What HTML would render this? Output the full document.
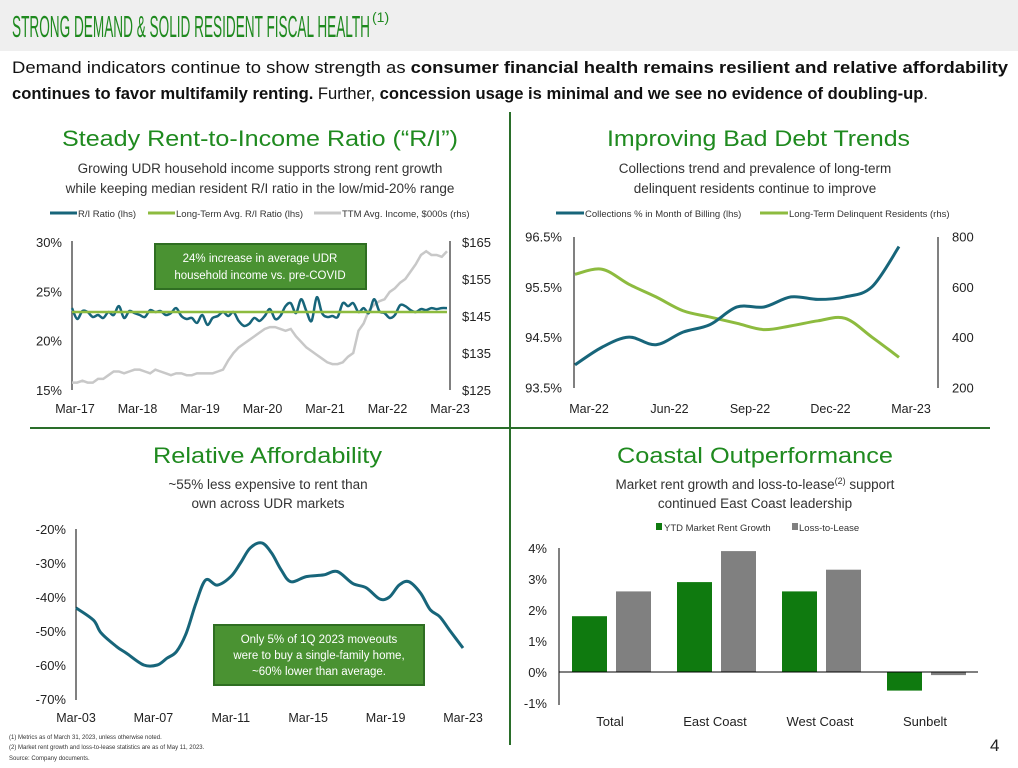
<!DOCTYPE html>
<html><head><meta charset="utf-8"><style>
html,body{margin:0;padding:0;background:#fff;}
svg{display:block;font-family:"Liberation Sans",sans-serif;}
</style></head><body>
<svg id="s" width="1018" height="768" viewBox="0 0 1018 768" xmlns="http://www.w3.org/2000/svg">
<rect x="0" y="0" width="1018" height="51" fill="#efefef"/>
<text x="12" y="37" font-size="31" fill="#1f8a1f" textLength="358" lengthAdjust="spacingAndGlyphs">STRONG DEMAND &amp; SOLID RESIDENT FISCAL HEALTH</text>
<text x="372" y="22" font-size="14" fill="#1f8a1f">(1)</text>
<text x="12" y="73" font-size="17" fill="#111" textLength="996" lengthAdjust="spacingAndGlyphs">Demand indicators continue to show strength as <tspan font-weight="bold">consumer financial health remains resilient and relative affordability</tspan></text>
<text x="12" y="99" font-size="17" fill="#111" textLength="916" lengthAdjust="spacingAndGlyphs"><tspan font-weight="bold">continues to favor multifamily renting.</tspan> Further, <tspan font-weight="bold">concession usage is minimal and we see no evidence of doubling-up</tspan>.</text>
<line x1="510" y1="112" x2="510" y2="745" stroke="#2a6e2a" stroke-width="2"/>
<line x1="30" y1="428" x2="990" y2="428" stroke="#2a6e2a" stroke-width="2"/>

<text x="62" y="146" font-size="22" fill="#1f8a1f" textLength="396" lengthAdjust="spacingAndGlyphs">Steady Rent-to-Income Ratio (“R/I”)</text>
<text x="260" y="173" font-size="13.5" fill="#333" text-anchor="middle">Growing UDR household income supports strong rent growth</text>
<text x="260" y="193" font-size="13.5" fill="#333" text-anchor="middle">while keeping median resident R/I ratio in the low/mid-20% range</text>

<text x="607" y="146" font-size="22" fill="#1f8a1f" textLength="303" lengthAdjust="spacingAndGlyphs">Improving Bad Debt Trends</text>
<text x="755" y="173" font-size="13.5" fill="#333" text-anchor="middle">Collections trend and prevalence of long-term</text>
<text x="755" y="193" font-size="13.5" fill="#333" text-anchor="middle">delinquent residents continue to improve</text>

<text x="153" y="463" font-size="22" fill="#1f8a1f" textLength="229" lengthAdjust="spacingAndGlyphs">Relative Affordability</text>
<text x="268" y="489" font-size="13.5" fill="#333" text-anchor="middle">~55% less expensive to rent than</text>
<text x="268" y="508" font-size="13.5" fill="#333" text-anchor="middle">own across UDR markets</text>

<text x="617" y="463" font-size="22" fill="#1f8a1f" textLength="276" lengthAdjust="spacingAndGlyphs">Coastal Outperformance</text>
<text x="755" y="489" font-size="13.5" fill="#333" text-anchor="middle">Market rent growth and loss-to-lease<tspan font-size="9" dy="-5">(2)</tspan><tspan dy="5"> support</tspan></text>
<text x="755" y="508" font-size="13.5" fill="#333" text-anchor="middle">continued East Coast leadership</text>

<g id="c1"></g><g id="c2"></g><g id="c3"></g><g id="c4"></g>

<text x="9" y="739" font-size="6" fill="#333">(1)     Metrics as of March 31, 2023, unless otherwise noted.</text>
<text x="9" y="749" font-size="6" fill="#333">(2)     Market rent growth and loss-to-lease statistics are as of May 11, 2023.</text>
<text x="9" y="760" font-size="6" fill="#333">Source:  Company documents.</text>
<text x="990" y="751" font-size="17" fill="#222">4</text>
</svg>
<script>
// ---- Chart 1 data
const riMonthsStart = "Mar-17";
const riRatio = [23.3,22.2,23.0,22.9,22.4,22.6,22.3,22.9,22.6,23.5,
22.3,23.0,22.8,22.6,22.4,23.1,22.9,23.0,22.6,22.8,23.3,22.5,
22.2,22.3,21.8,22.6,21.6,22.3,22.5,22.9,22.5,22.9,22.0,21.5,
21.7,22.3,22.0,22.5,23.2,22.2,22.5,23.5,23.8,22.8,24.2,23.0,
22.0,24.4,22.8,22.4,22.5,22.4,23.8,23.5,23.8,22.9,23.3,22.8,
24.2,23.0,22.8,22.3,22.6,23.6,23.5,23.1,22.9,23.2,23.1,23.3,
23.2,23.3,23.3];
const riLongTermAvg = 22.9;
const riIncome = [127,127,127.5,127,127,128,128,129,130,130,
129.5,130,130.5,130.5,130,129.5,130.5,130,129.5,129,129.5,129.5,
129,129,129.5,129.5,129.5,129.5,130,130.5,133,135,136.5,137.5,
138.5,139.5,140.5,141.5,142,142,141.5,141,141.5,139.5,138,136.5,
135.5,134.5,133.5,132.5,132,132,132.5,134,135,141,143,146.5,
148,149,149.5,151.5,152.5,154,155,157,159,161.5,162.5,161.5,
161.5,161,162.5];
const riLeftTicks = [15,20,25,30];
const riRightTicks = [125,135,145,155,165];
const riXLabels = ["Mar-17","Mar-18","Mar-19","Mar-20","Mar-21","Mar-22","Mar-23"];
// ---- Chart 2 data
const bdMonths = ["Mar-22","Apr-22","May-22","Jun-22","Jul-22","Aug-22","Sep-22","Oct-22","Nov-22","Dec-22","Jan-23","Feb-23","Mar-23"];
const bdCollections = [93.95,94.3,94.5,94.35,94.6,94.75,95.1,95.1,95.3,95.25,95.3,95.5,96.3];
const bdDelinquent = [650,670,610,560,505,480,455,430,445,465,475,400,320];
const bdLeftTicks = [93.5,94.5,95.5,96.5];
const bdRightTicks = [200,400,600,800];
const bdXLabels = ["Mar-22","Jun-22","Sep-22","Dec-22","Mar-23"];
// ---- Chart 3 data
const afYears = [2003,2003.9,2004.3,2005.1,2005.6,2006.5,2007.2,2007.7,2008.2,2008.7,2009.2,2009.7,2010.3,2011,2011.5,2012,2012.6,2013.1,2013.6,2014.1,2014.9,2015.8,2016.5,2017.3,2018,2018.7,2019.2,2019.7,2020.2,2020.8,2021.3,2021.8,2022.3,2023];
const afValues = [-43.2,-46.8,-50.6,-54.6,-56.5,-60,-60,-58,-56,-50.6,-41.8,-35,-36.5,-34,-30,-25.6,-24.1,-27,-32,-35.5,-34,-33.5,-32.5,-36,-37.3,-40.6,-40,-36.5,-35.5,-38.8,-43.7,-45.8,-49.7,-55];
const afTicks = [-70,-60,-50,-40,-30,-20];
const afXLabels = ["Mar-03","Mar-07","Mar-11","Mar-15","Mar-19","Mar-23"];
const afXLabelYears = [2003,2007,2011,2015,2019,2023];
// ---- Chart 4 data
const coCategories = ["Total","East Coast","West Coast","Sunbelt"];
const coRentGrowth = [1.8,2.9,2.6,-0.6];
const coLossToLease = [2.6,3.9,3.3,-0.1];
const coTicks = [-1,0,1,2,3,4];

const NS="http://www.w3.org/2000/svg";
function mk(parent,tag,attrs,text){const e=document.createElementNS(NS,tag);for(const k in attrs)e.setAttribute(k,attrs[k]);if(text!==undefined)e.textContent=text;parent.appendChild(e);return e;}
function smooth(pts){let d="M"+pts[0][0]+","+pts[0][1];for(let i=0;i<pts.length-1;i++){const p0=pts[i-1]||pts[i],p1=pts[i],p2=pts[i+1],p3=pts[i+2]||p2;const c1=[p1[0]+(p2[0]-p0[0])/6,p1[1]+(p2[1]-p0[1])/6],c2=[p2[0]-(p3[0]-p1[0])/6,p2[1]-(p3[1]-p1[1])/6];d+=" C"+c1+" "+c2+" "+p2;}return d;}
const TEAL="#17657a",LGREEN="#8dbb3f";

// Chart 1
(function(){
const g=document.getElementById('c1');
const x=i=>72+i*(375/72), yl=v=>390-(v-15)*(148/15), yr=v=>390-(v-125)*(148/40);
[[TEAL,"R/I Ratio (lhs)",50],[LGREEN,"Long-Term Avg. R/I Ratio (lhs)",148],["#c8c8c8","TTM Avg. Income, $000s (rhs)",314]].forEach(l=>{
 const ln=mk(g,'line',{x1:l[2],y1:213,x2:l[2]+27,y2:213,stroke:l[0],'stroke-width':3});
 
 const t=mk(g,'text',{x:l[2]+28,y:217,'font-size':9.5,fill:'#333'},l[1]);
 });
let a=mk(g,'line',{x1:72,y1:241,x2:72,y2:390,stroke:'#000','stroke-width':1});
a=mk(g,'line',{x1:450,y1:241,x2:450,y2:390,stroke:'#000','stroke-width':1});
riLeftTicks.forEach(v=>{const t=mk(g,'text',{x:62,y:yl(v)+5,'font-size':13,fill:'#222','text-anchor':'end'},v+"%");});
riRightTicks.forEach(v=>{const t=mk(g,'text',{x:462,y:yr(v)+5,'font-size':13,fill:'#222'},"$"+v);});
riXLabels.forEach((s,i)=>{const t=mk(g,'text',{x:x(i*12)+3,y:413,'font-size':12.5,fill:'#222','text-anchor':'middle'},s);});
let p=mk(g,'polyline',{points:riIncome.map((v,i)=>x(i)+","+yr(v)).join(" "),fill:'none',stroke:'#c8c8c8','stroke-width':2.5});

p=mk(g,'path',{d:smooth(riRatio.map((v,i)=>[x(i),yl(v)])),fill:'none',stroke:TEAL,'stroke-width':2.5});

p=mk(g,'line',{x1:72,y1:yl(riLongTermAvg),x2:x(riRatio.length-1),y2:yl(riLongTermAvg),stroke:LGREEN,'stroke-width':2.5});

const b=mk(g,'rect',{x:155,y:244,width:211,height:45,fill:'#4a9232',stroke:'#2f6e22','stroke-width':2});

let t=mk(g,'text',{x:260,y:262,'font-size':11.5,fill:'#fff','text-anchor':'middle'},"24% increase in average UDR");
t=mk(g,'text',{x:260,y:279,'font-size':11.5,fill:'#fff','text-anchor':'middle'},"household income vs. pre-COVID");
})();

// Chart 2
(function(){
const g=document.getElementById('c2');
const x=i=>575+i*(324/12), yl=v=>387.5-(v-93.5)*(151/3), yr=v=>387.5-(v-200)*(151/600);
[[TEAL,"Collections % in Month of Billing (lhs)",556],[LGREEN,"Long-Term Delinquent Residents (rhs)",760]].forEach(l=>{
 const ln=mk(g,'line',{x1:l[2],y1:213,x2:l[2]+28,y2:213,stroke:l[0],'stroke-width':3});
 
 const t=mk(g,'text',{x:l[2]+29,y:217,'font-size':9.5,fill:'#333'},l[1]);
 });
let a=mk(g,'line',{x1:574,y1:237,x2:574,y2:388,stroke:'#000'});
a=mk(g,'line',{x1:938,y1:237,x2:938,y2:388,stroke:'#000'});
bdLeftTicks.forEach(v=>{const t=mk(g,'text',{x:562,y:yl(v)+5,'font-size':13,fill:'#222','text-anchor':'end'},v.toFixed(1)+"%");});
bdRightTicks.forEach(v=>{const t=mk(g,'text',{x:952,y:yr(v)+5,'font-size':13,fill:'#222'},v);});
bdXLabels.forEach((s,i)=>{const t=mk(g,'text',{x:x(i*3)+14-i*0.5,y:413,'font-size':12.5,fill:'#222','text-anchor':'middle'},s);});
let p=mk(g,'path',{d:smooth(bdDelinquent.map((v,i)=>[x(i),yr(v)])),fill:'none',stroke:LGREEN,'stroke-width':3});

p=mk(g,'path',{d:smooth(bdCollections.map((v,i)=>[x(i),yl(v)])),fill:'none',stroke:TEAL,'stroke-width':3});

})();

// Chart 3
(function(){
const g=document.getElementById('c3');
const x=yr=>76+(yr-2003)*(387/20), y=v=>529-(v+20)*(170/50);
let a=mk(g,'line',{x1:76,y1:529,x2:76,y2:700,stroke:'#000'});
afTicks.forEach(v=>{const t=mk(g,'text',{x:66,y:y(v)+5,'font-size':13,fill:'#222','text-anchor':'end'},v+"%");});
afXLabels.forEach((s,i)=>{const t=mk(g,'text',{x:x(afXLabelYears[i]),y:722,'font-size':12.5,fill:'#222','text-anchor':'middle'},s);});
let p=mk(g,'path',{d:smooth(afValues.map((v,i)=>[x(afYears[i]),y(v)])),fill:'none',stroke:TEAL,'stroke-width':3});

const b=mk(g,'rect',{x:214,y:625,width:210,height:60,fill:'#4a9232',stroke:'#2f6e22','stroke-width':2});

["Only 5% of 1Q 2023 moveouts","were to buy a single-family home,","~60% lower than average."].forEach((s,i)=>{const t=mk(g,'text',{x:319,y:643+i*16,'font-size':11.5,fill:'#fff','text-anchor':'middle'},s);});
})();

// Chart 4
(function(){
const g=document.getElementById('c4');
const y=v=>672-v*31, cx=i=>611+i*105;
let r=mk(g,'rect',{x:656,y:523,width:6,height:7,fill:'#0f7a0f'});
let t=mk(g,'text',{x:664,y:531,'font-size':9.5,fill:'#333'},"YTD Market Rent Growth");
r=mk(g,'rect',{x:792,y:523,width:6,height:7,fill:'#808080'});
t=mk(g,'text',{x:799,y:531,'font-size':9.5,fill:'#333'},"Loss-to-Lease");
let a=mk(g,'line',{x1:559,y1:548,x2:559,y2:705,stroke:'#000'});
coTicks.forEach(v=>{const tt=mk(g,'text',{x:547,y:y(v)+5,'font-size':13,fill:'#222','text-anchor':'end'},v+"%");});
coCategories.forEach((c,i)=>{
 const v1=coRentGrowth[i],v2=coLossToLease[i];
 const b1=mk(g,'rect',{x:cx(i)-39,y:Math.min(y(v1),y(0)),width:35,height:Math.abs(y(v1)-y(0)),fill:'#0f7a0f'});
 
 const b2=mk(g,'rect',{x:cx(i)+5,y:Math.min(y(v2),y(0)),width:35,height:Math.abs(y(v2)-y(0)),fill:'#808080'});
 
 const tl=mk(g,'text',{x:cx(i)-1,y:726,'font-size':13,fill:'#222','text-anchor':'middle'},c);
 
});
a=mk(g,'line',{x1:559,y1:y(0),x2:978,y2:y(0),stroke:'#000'});
})();
</script>
</body></html>
